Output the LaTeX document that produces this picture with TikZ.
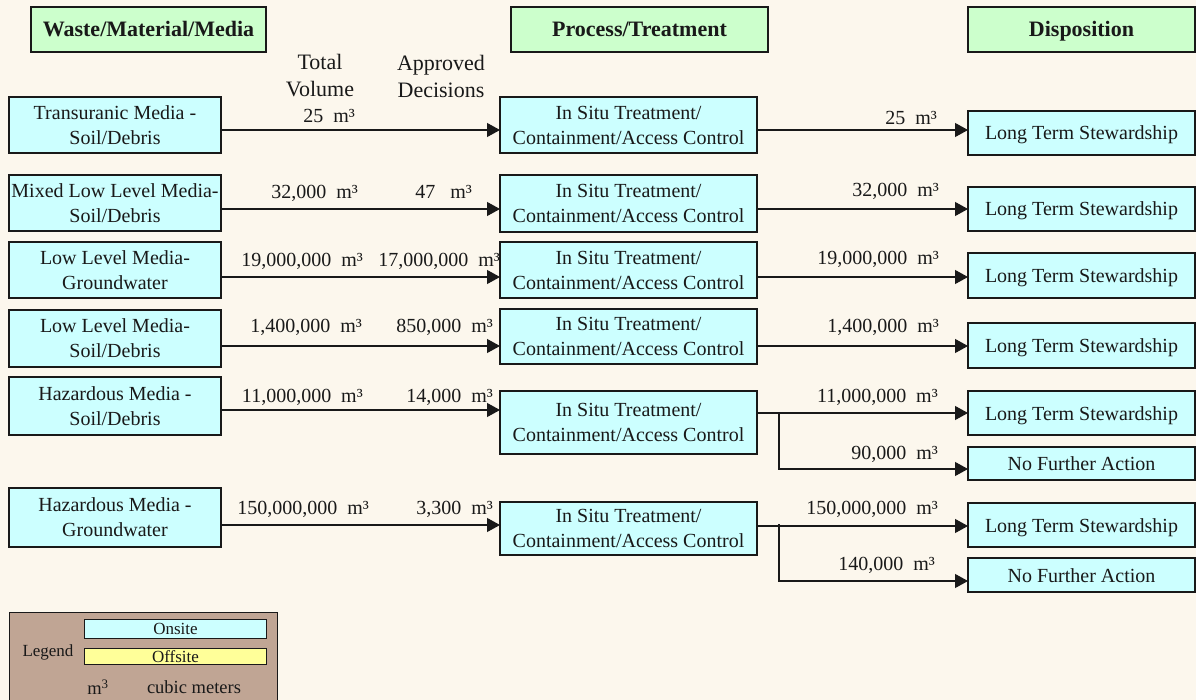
\documentclass[tikz,border=0pt]{standalone}
\usepackage{fontspec}
\setmainfont{Liberation Serif}
\usetikzlibrary{arrows.meta}
\definecolor{paper}{RGB}{252,247,237}
\definecolor{onsite}{RGB}{204,255,255}
\definecolor{offsite}{RGB}{255,255,153}
\definecolor{headgreen}{RGB}{204,255,204}
\definecolor{legendbg}{RGB}{192,165,148}
\definecolor{ink}{RGB}{25,25,25}
\newcommand\setfs[2]{\fontsize{#1}{#2}\selectfont}
\begin{document}
\begin{tikzpicture}[x=1pt,y=-1pt,
  box/.style={draw=ink, line width=1.1pt, inner sep=0pt, outer sep=0pt,
    align=center, anchor=north west, text=ink, font=\setfs{20}{25}},
  media/.style={box, fill=onsite, minimum width=212pt},
  treat/.style={box, fill=onsite, minimum width=257pt},
  dispo/.style={box, fill=onsite, minimum width=227pt, text height=14pt, text depth=0pt},
  head/.style={box, fill=headgreen, minimum height=45pt, text height=15pt, text depth=0pt,
    font=\bfseries\setfs{22}{26}},
  flow/.style={draw=ink, line width=1.1pt, -{Triangle[length=13pt,width=14pt]}},
  link/.style={draw=ink, line width=1.1pt},
  qty/.style={inner sep=0pt, text height=14pt, text depth=0pt, anchor=east,
    text=ink, font=\setfs{20}{24}},
  coltitle/.style={align=center, inner sep=0pt, text=ink, font=\setfs{22}{27}},
  legtext/.style={inner sep=0pt, text=ink, font=\setfs{17}{20}},
  legbar/.style={draw=ink, line width=1pt, inner sep=0pt, anchor=north west,
    minimum width=182pt, text=ink, font=\setfs{17}{20}}]

% canvas
\useasboundingbox (0,0) rectangle (1196,700);
\fill[paper] (0,0) rectangle (1196,700);

% column headers
\node[head, minimum width=235pt] (h1) at (31,7) {Waste/Material/Media};
\node[head, minimum width=257pt] (h2) at (511,7) {Process/Treatment};
\node[head, minimum width=227pt] (h3) at (968,7) {Disposition};

\node[coltitle] (tv) at (320,76) {Total\\Volume};
\node[coltitle] (ad) at (441,76) {Approved\\Decisions};

% waste streams
\node[media, minimum height=56pt] (s1) at (9,97)  {Transuranic Media -\\Soil/Debris};
\node[media, minimum height=56pt] (s2) at (9,175) {Mixed Low Level Media-\\Soil/Debris};
\node[media, minimum height=56pt] (s3) at (9,242) {Low Level Media-\\Groundwater};
\node[media, minimum height=57pt] (s4) at (9,310) {Low Level Media-\\Soil/Debris};
\node[media, minimum height=58pt] (s5) at (9,377) {Hazardous Media -\\Soil/Debris};
\node[media, minimum height=59pt] (s6) at (9,488) {Hazardous Media -\\Groundwater};

% treatment
\node[treat, minimum height=56pt] (p1) at (500,97)  {In Situ Treatment/\\Containment/Access Control};
\node[treat, minimum height=57pt] (p2) at (500,175) {In Situ Treatment/\\Containment/Access Control};
\node[treat, minimum height=56pt] (p3) at (500,242) {In Situ Treatment/\\Containment/Access Control};
\node[treat, minimum height=55pt] (p4) at (500,309) {In Situ Treatment/\\Containment/Access Control};
\node[treat, minimum height=63pt] (p5) at (500,391) {In Situ Treatment/\\Containment/Access Control};
\node[treat, minimum height=53pt] (p6) at (500,502) {In Situ Treatment/\\Containment/Access Control};

% disposition
\node[dispo, minimum height=44pt] (d1) at (968,111) {Long Term Stewardship};
\node[dispo, minimum height=44pt] (d2) at (968,187) {Long Term Stewardship};
\node[dispo, minimum height=45pt] (d3) at (968,253) {Long Term Stewardship};
\node[dispo, minimum height=45pt] (d4) at (968,323) {Long Term Stewardship};
\node[dispo, minimum height=44pt] (d5) at (968,391) {Long Term Stewardship};
\node[dispo, minimum height=33pt] (n5) at (968,447) {No Further Action};
\node[dispo, minimum height=44pt] (d6) at (968,503) {Long Term Stewardship};
\node[dispo, minimum height=34pt] (n6) at (968,558) {No Further Action};

% connector levels
\coordinate (a1) at (0,130); \coordinate (b1) at (0,130);
\coordinate (a2) at (0,209); \coordinate (b2) at (0,209);
\coordinate (a3) at (0,277); \coordinate (b3) at (0,277);
\coordinate (a4) at (0,346); \coordinate (b4) at (0,346);
\coordinate (a5) at (0,410); \coordinate (b5) at (0,413); \coordinate (c5) at (0,469);
\coordinate (a6) at (0,525); \coordinate (b6) at (0,526); \coordinate (c6) at (0,581);
\coordinate (k5) at (779,413);
\coordinate (k6) at (779,524);

% flows into treatment
\foreach \i in {1,...,6}{
  \draw[flow] (s\i.east |- a\i) -- (p\i.west |- a\i);
}
% flows to disposition
\foreach \i in {1,...,6}{
  \draw[flow] (p\i.east |- b\i) -- (d\i.west |- b\i);
}
\draw[flow] (k5) |- (n5.west |- c5);
\draw[flow] (k6) |- (n6.west |- c6);

% volumes
\node[qty] (v1) at (355,116) {25~~m³};
\node[qty] (v2) at (358,192) {32,000~~m³};
\node[qty] (v3) at (363,260) {19,000,000~~m³};
\node[qty] (v4) at (362,326) {1,400,000~~m³};
\node[qty] (v5) at (363,395) {11,000,000~~m³};
\node[qty] (v6) at (369,507) {150,000,000~~m³};

\node[qty] (w2) at (472,192) {47~~~m³};
\node[qty] (w3) at (500,260) {17,000,000~~m³};
\node[qty] (w4) at (493,326) {850,000~~m³};
\node[qty] (w5) at (493,395) {14,000~~m³};
\node[qty] (w6) at (493,507) {3,300~~m³};

\node[qty] (x1) at (937,118) {25~~m³};
\node[qty] (x2) at (939,190) {32,000~~m³};
\node[qty] (x3) at (939,258) {19,000,000~~m³};
\node[qty] (x4) at (939,326) {1,400,000~~m³};
\node[qty] (x5) at (938,395) {11,000,000~~m³};
\node[qty] (y5) at (938,452) {90,000~~m³};
\node[qty] (x6) at (938,507) {150,000,000~~m³};
\node[qty] (y6) at (935,563) {140,000~~m³};

% legend
\node[draw=ink, line width=1pt, fill=legendbg, anchor=north west, inner sep=0pt,
  minimum width=268pt, minimum height=88pt] (leg) at (9,612) {};
\node[legbar, fill=onsite, minimum height=19pt] (lon) at (84,619) {Onsite};
\node[legbar, fill=offsite, minimum height=16pt] (loff) at (84,648) {Offsite};
\node[legtext] (lt) at (48,652) {Legend};
\node[legtext, font=\setfs{18.5}{22}] (lu) at (98,687) {m\textsuperscript{3}};
\node[legtext, font=\setfs{18.5}{22}] (lc) at (194,687) {cubic meters};
\end{tikzpicture}
\end{document}
